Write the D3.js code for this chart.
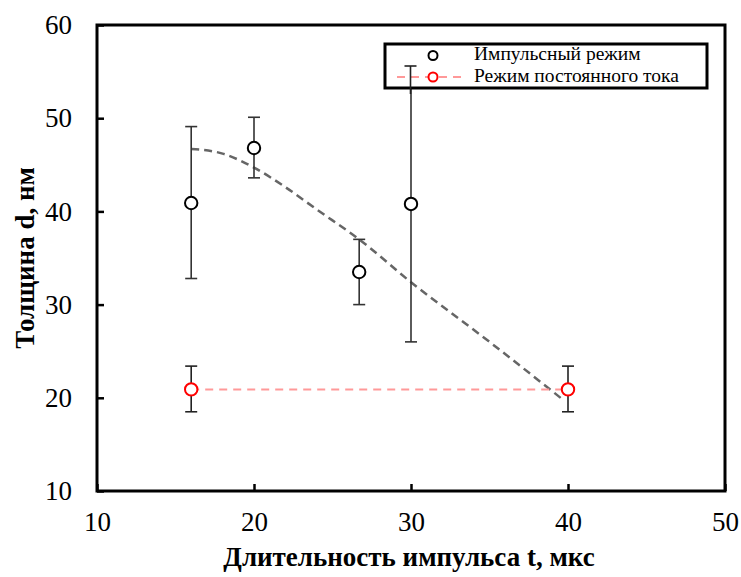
<!DOCTYPE html>
<html>
<head>
<meta charset="utf-8">
<script src="https://cdn.jsdelivr.net/npm/d3@7"></script>
</head>
<body style="margin:0">
<script>
// Pulsed-mode measurements: pulse duration (µs), thickness (nm), error bounds
const pulseT    = [16, 20, 26.7, 30];
const pulseD    = [40.9, 46.8, 33.5, 40.8];
const pulseLow  = [32.8, 43.6, 30.0, 26.0];
const pulseHigh = [49.1, 50.1, 37.0, 55.6];

// DC-mode measurements
const dcT    = [16, 40];
const dcD    = [20.9, 20.9];
const dcLow  = [18.5, 18.5];
const dcHigh = [23.4, 23.4];

// Trend curve through the pulsed data
const trendT = [16, 18, 20, 22, 24, 26.7, 30, 35, 39.75];
const trendD = [46.7, 46.2, 44.7, 42.6, 40.2, 37.0, 32.4, 26.0, 19.7];

const xTicks = [10, 20, 30, 40, 50];
const yTicks = [10, 20, 30, 40, 50, 60];

const seriesNames = ["Импульсный режим", "Режим постоянного тока"];

const W = 741, H = 577;
const FONT = "Liberation Serif";
const svg = d3.select("body").append("svg").attr("width", W).attr("height", H)
  .style("display", "block").attr("font-family", FONT);

const x = d3.scaleLinear().domain([10, 50]).range([97, 725]);
const y = d3.scaleLinear().domain([10, 60]).range([491, 25]);

// Axes with inward ticks
const xAxis = d3.axisBottom(x).tickValues(xTicks).tickSize(-7).tickPadding(21).tickFormat(d3.format("d"));
const yAxis = d3.axisLeft(y).tickValues(yTicks).tickSize(-7).tickPadding(25).tickFormat(d3.format("d"));

const gx = svg.append("g").attr("transform", `translate(0,${y(10)})`).call(xAxis);
const gy = svg.append("g").attr("transform", `translate(${x(10)},0)`).call(yAxis);
[gx, gy].forEach(g => {
  g.attr("font-family", FONT).attr("font-size", 27);
  g.select(".domain").remove();
  g.selectAll(".tick line").attr("stroke", "#000").attr("stroke-width", 2.5);
  g.selectAll(".tick text").attr("fill", "#000").attr("font-family", FONT);
});
gx.selectAll(".tick text").attr("dy", "0.71em");

// Plot frame
svg.append("rect")
  .attr("x", x(10)).attr("y", y(60))
  .attr("width", x(50) - x(10)).attr("height", y(10) - y(60))
  .attr("fill", "none").attr("stroke", "#000").attr("stroke-width", 3);

// Axis titles
svg.append("text")
  .attr("x", (x(10) + x(50)) / 2 - 2).attr("y", 566)
  .attr("text-anchor", "middle")
  .attr("font-family", FONT).attr("font-size", 27).attr("font-weight", "bold")
  .text("Длительность импульса t, мкс");

svg.append("text")
  .attr("transform", `translate(34,${(y(10) + y(60)) / 2}) rotate(-90)`)
  .attr("text-anchor", "middle")
  .attr("font-family", FONT).attr("font-size", 27).attr("font-weight", "bold")
  .text("Толщина d, нм");

// Trend curve
const trend = d3.line().x((d, i) => x(trendT[i])).y(d => y(d)).curve(d3.curveMonotoneX);
svg.append("path")
  .attr("d", trend(trendD))
  .attr("fill", "none").attr("stroke", "#666").attr("stroke-width", 2.5)
  .attr("stroke-dasharray", "8,5");

// DC dashed connector
const dcLine = d3.line().x((d, i) => x(dcT[i])).y(d => y(d));
svg.append("path")
  .attr("d", dcLine(dcD))
  .attr("fill", "none").attr("stroke", "#ff9999").attr("stroke-width", 2)
  .attr("stroke-dasharray", "8,6");

// Error bars
function errorBars(ts, lows, highs, color) {
  const g = svg.append("g").attr("stroke", color).attr("stroke-width", 1.6);
  ts.forEach((t, i) => {
    const cx = x(t);
    g.append("line").attr("x1", cx).attr("x2", cx).attr("y1", y(lows[i])).attr("y2", y(highs[i]));
    g.append("line").attr("x1", cx - 6).attr("x2", cx + 6).attr("y1", y(lows[i])).attr("y2", y(lows[i]));
    g.append("line").attr("x1", cx - 6).attr("x2", cx + 6).attr("y1", y(highs[i])).attr("y2", y(highs[i]));
  });
}
errorBars(pulseT, pulseLow, pulseHigh, "#333");
errorBars(dcT, dcLow, dcHigh, "#222");

// Markers
function markers(ts, ds, color) {
  svg.append("g").selectAll("circle").data(ds).join("circle")
    .attr("cx", (d, i) => x(ts[i])).attr("cy", d => y(d)).attr("r", 6.2)
    .attr("fill", "#fff").attr("stroke", color).attr("stroke-width", 2);
}
markers(pulseT, pulseD, "#000");
markers(dcT, dcD, "#ff0000");

// Legend
const lg = svg.append("g");
lg.append("rect").attr("x", 385).attr("y", 44).attr("width", 322).attr("height", 44)
  .attr("fill", "#fff").attr("stroke", "#000").attr("stroke-width", 3);
lg.append("line").attr("x1", 397).attr("x2", 462).attr("y1", 77).attr("y2", 77)
  .attr("stroke", "#ff9999").attr("stroke-width", 2).attr("stroke-dasharray", "8,6");
lg.append("line").attr("x1", 410.5).attr("x2", 410.5).attr("y1", 66).attr("y2", 94)
  .attr("stroke", "#222").attr("stroke-width", 1.6);
lg.append("line").attr("x1", 404.5).attr("x2", 416.5).attr("y1", 66).attr("y2", 66)
  .attr("stroke", "#222").attr("stroke-width", 1.6);
lg.append("circle").attr("cx", 433).attr("cy", 55.5).attr("r", 4.5)
  .attr("fill", "#fff").attr("stroke", "#000").attr("stroke-width", 2);
lg.append("circle").attr("cx", 433).attr("cy", 77).attr("r", 4.5)
  .attr("fill", "#fff").attr("stroke", "#ff0000").attr("stroke-width", 2);
lg.selectAll("text.lbl").data(seriesNames).join("text")
  .attr("x", 474).attr("y", (d, i) => 60 + i * 22)
  .attr("font-family", FONT).attr("font-size", 19.5)
  .text(d => d);
</script>
</body>
</html>
